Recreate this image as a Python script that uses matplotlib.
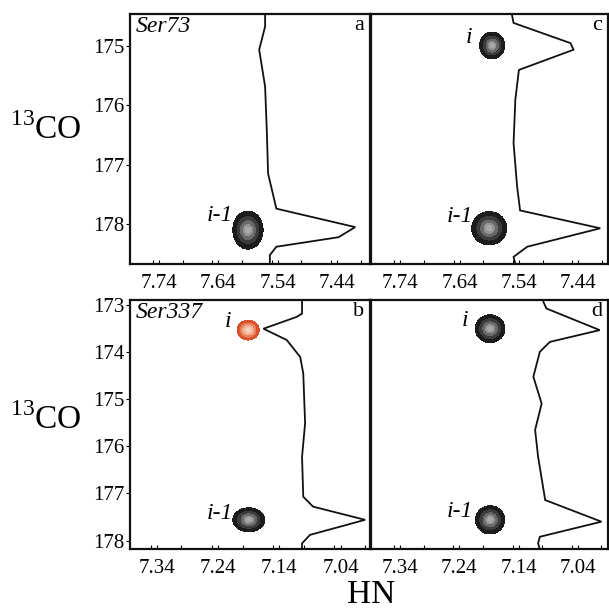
import numpy as np
import matplotlib
matplotlib.use("Agg")
import matplotlib.pyplot as plt
from matplotlib.ticker import MultipleLocator
from matplotlib.colors import LinearSegmentedColormap

# ---------------- data ----------------
panel_ids = ["a", "c", "b", "d"]
residue_names = {"a": "Ser73", "b": "Ser337", "c": "", "d": ""}
xlims = {"a": (7.789, 7.384), "c": (7.789, 7.39), "b": (7.384, 6.992), "d": (7.389, 6.989)}
ylims = {"a": (178.67, 174.47), "c": (178.67, 174.47), "b": (178.18, 172.89), "d": (178.18, 172.89)}
xticks_top = [7.74, 7.64, 7.54, 7.44]
xticks_bot = [7.34, 7.24, 7.14, 7.04]
yticks_top = [175, 176, 177, 178]
yticks_bot = [173, 174, 175, 176, 177, 178]

# 1D traces (HN ppm, 13CO ppm)
trace_a_x = [7.561, 7.561, 7.571, 7.561, 7.558, 7.556, 7.542, 7.409, 7.437, 7.542, 7.553, 7.553]
trace_a_y = [174.47, 174.68, 175.07, 175.69, 176.47, 177.15, 177.74, 178.05, 178.22, 178.38, 178.52, 178.67]
trace_c_x = [7.552, 7.549, 7.453, 7.448, 7.540, 7.546, 7.549, 7.543, 7.538, 7.403, 7.526, 7.549, 7.546]
trace_c_y = [174.47, 174.62, 174.96, 175.07, 175.41, 175.91, 176.64, 177.37, 177.77, 178.07, 178.38, 178.55, 178.67]
trace_b_x = [7.103, 7.103, 7.112, 7.166, 7.128, 7.106, 7.101, 7.098, 7.103, 7.101, 7.085, 7.000, 7.090, 7.103, 7.103]
trace_b_y = [172.89, 173.18, 173.25, 173.50, 173.74, 174.10, 174.45, 175.51, 176.22, 177.07, 177.28, 177.56, 177.88, 178.06, 178.19]
trace_d_x = [7.098, 7.093, 7.003, 7.087, 7.104, 7.115, 7.101, 7.112, 7.107, 7.095, 7.000, 7.104, 7.107, 7.104]
trace_d_y = [172.93, 173.07, 173.53, 173.78, 173.99, 174.52, 175.09, 175.65, 176.22, 177.14, 177.60, 177.92, 178.06, 178.19]
traces = {"a": (trace_a_x, trace_a_y), "c": (trace_c_x, trace_c_y),
          "b": (trace_b_x, trace_b_y), "d": (trace_d_x, trace_d_y)}

# peaks: panel, label, HN, CO, width HN, width CO, colour kind
peak_panel = ["a", "c", "c", "b", "b", "d", "d"]
peak_label = ["i-1", "i", "i-1", "i", "i-1", "i", "i-1"]
peak_hn = [7.590, 7.585, 7.590, 7.191, 7.190, 7.188, 7.188]
peak_co = [178.10, 175.00, 178.07, 173.53, 177.56, 173.50, 177.56]
peak_whn = [0.051, 0.042, 0.059, 0.036, 0.052, 0.050, 0.049]
peak_wco = [0.64, 0.45, 0.56, 0.42, 0.51, 0.59, 0.60]
peak_red = [False, False, False, True, False, False, False]
# label anchor (right edge) positions
label_hn = [7.615, 7.619, 7.617, 7.218, 7.215, 7.225, 7.217]
label_co = [177.85, 174.87, 177.88, 173.35, 177.42, 173.32, 177.39]

# ---------------- figure ----------------
plt.rcParams['font.family'] = ['Liberation Serif', 'DejaVu Serif']
fig = plt.figure(figsize=(6.09, 6.12), dpi=100)

pos = {
    "a": [130/609, 1-264/612, 240/609, 250/612],
    "c": [371/609, 1-264/612, 237/609, 250/612],
    "b": [130/609, 1-549/612, 240/609, 249/612],
    "d": [371/609, 1-549/612, 237/609, 249/612],
}

gray_cmap = LinearSegmentedColormap.from_list("g", ["#121212", "#242424", "#555555", "#b0b0b0"])
red_cmap = LinearSegmentedColormap.from_list("r", ["#d0431f", "#e0623a", "#f0a080", "#f8d8c0"])

axes = {}
for pid in panel_ids:
    ax = fig.add_axes(pos[pid])
    axes[pid] = ax
    ax.set_xlim(*xlims[pid])
    ax.set_ylim(*ylims[pid])
    top = pid in ("a", "c")
    ax.set_xticks(xticks_top if top else xticks_bot)
    ax.xaxis.set_minor_locator(MultipleLocator(0.05))
    ax.set_xticklabels([f"{v:.2f}" for v in (xticks_top if top else xticks_bot)], fontsize=15)
    ax.tick_params(axis='x', which='both', direction='in', length=3, width=0.8, pad=7)
    if pid in ("a", "b"):
        ax.set_yticks(yticks_top if top else yticks_bot)
        ax.set_yticklabels([str(v) for v in (yticks_top if top else yticks_bot)], fontsize=15)
        ax.tick_params(axis='y', direction='out', length=3, width=0.8, pad=1)
    else:
        ax.set_yticks([])
    for s in ax.spines.values():
        s.set_linewidth(1.6)
        s.set_color("#111111")

    # 1D trace
    tx, ty = traces[pid]
    ax.plot(tx, ty, color="#111111", lw=1.3, solid_joinstyle='miter')

    # labels
    if residue_names[pid]:
        ax.text(0.025, 0.99, residue_names[pid], transform=ax.transAxes, fontsize=17,
                style='italic', ha='left', va='top')
    ax.text(0.975, 0.99, pid, transform=ax.transAxes, fontsize=16, ha='right', va='top')

# peaks as contour plots
for p, lab, hn, co, whn, wco, red, lx, ly in zip(peak_panel, peak_label, peak_hn, peak_co,
                                                 peak_whn, peak_wco, peak_red, label_hn, label_co):
    ax = axes[p]
    gx = np.linspace(hn - whn, hn + whn, 120)
    gy = np.linspace(co - wco, co + wco, 120)
    X, Y = np.meshgrid(gx, gy)
    sx = (whn / 2) / 1.55
    sy = (wco / 2) / 1.55
    Z = np.exp(-0.5 * (((X - hn) / sx) ** 2 + ((Y - co) / sy) ** 2))
    ax.contourf(X, Y, Z, levels=[0.3, 0.55, 0.75, 0.9, 0.97, 1.01],
                cmap=red_cmap if red else gray_cmap, zorder=3)
    ax.text(lx, ly, lab, fontsize=17, style='italic', ha='right', va='center', zorder=4)

# axis titles
fig.text(46/609, 1-130/612, r"$^{\mathregular{13}}$CO", fontsize=24, ha='center', va='center')
fig.text(46/609, 1-420/612, r"$^{\mathregular{13}}$CO", fontsize=24, ha='center', va='center')
fig.text(371/609, 1-595/612, "HN", fontsize=24, ha='center', va='center')

fig.savefig("out.png", dpi=100, facecolor="white")
